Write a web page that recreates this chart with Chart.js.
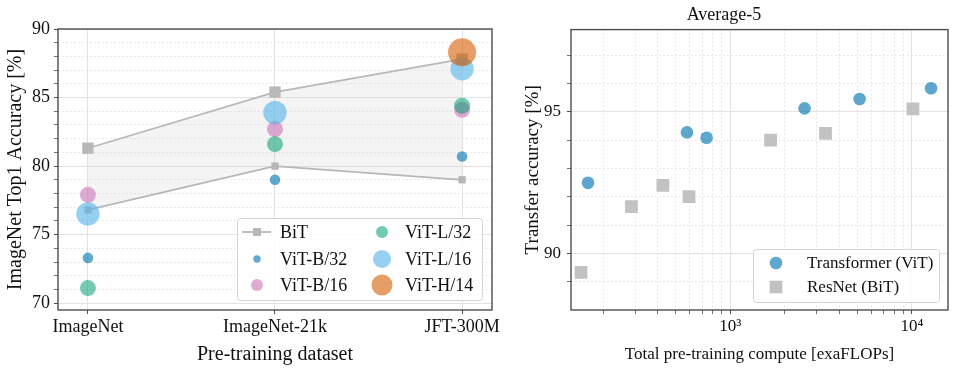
<!DOCTYPE html>
<html>
<head>
<meta charset="utf-8">
<script src="https://cdn.jsdelivr.net/npm/chart.js@4/dist/chart.umd.min.js"></script>
<style>
  body { margin: 0; background: #fff; width: 957px; height: 373px; overflow: hidden; position: relative; }
  canvas { position: absolute; top: 0; }
</style>
</head>
<body>
<canvas id="accChart" width="520" height="373" style="left:0"></canvas>
<canvas id="computeChart" width="457" height="373" style="left:500px"></canvas>
<script>
// left panel: ImageNet top1 per pre-training dataset
const pretrainSets = ["ImageNet", "ImageNet-21k", "JFT-300M"];
const bitUpper = [81.3, 85.4, 87.8];
const bitLower = [76.8, 80.0, 79.0];
const vitB32 = [73.3, 79.0, 80.7];
const vitB16 = [77.9, 82.7, 84.1];
const vitL32 = [71.1, 81.6, 84.4];
const vitL16 = [76.5, 83.9, 87.1];
const vitH14 = [null, null, 88.3];
const leftMajorTicks = [70, 75, 80, 85, 90];

// right panel: Average-5 transfer vs compute
const vitCompute = [165, 578, 741, 2564, 5150, 12730];
const vitTransfer = [92.49, 94.27, 94.08, 95.12, 95.45, 95.83];
const bitCompute = [151, 286, 426, 593, 1667, 3345, 10120];
const bitTransfer = [89.33, 91.65, 92.40, 92.0, 94.0, 94.24, 95.1];
const computeTicks = [200, 300, 400, 500, 600, 700, 800, 900, 1000,
  2000, 3000, 4000, 5000, 6000, 7000, 8000, 9000, 10000];
const computeLabels = { 1000: "10³", 10000: "10⁴" };
const rightMajorTicks = [90, 95];

const FONT = "Liberation Serif";
const TEXT = "#111";
const GRID = "#e2e2e2";
const MINOR = "#d9d9d9";

const C_B32 = "rgba(1,115,178,0.62)";
const C_B16 = "rgba(204,120,188,0.62)";
const C_L32 = "rgba(2,158,115,0.55)";
const C_L16 = "rgba(86,180,233,0.62)";
const C_H14 = "rgba(213,94,0,0.6)";
const C_BIT = "#b7b7b7";

function pts(values) {
  return values
    .map((v, i) => (v === null ? null : { x: i, y: v }))
    .filter((p) => p !== null);
}

const framePlugin = {
  id: "frame",
  afterDraw(chart) {
    const { ctx, chartArea: a } = chart;
    ctx.save();
    ctx.strokeStyle = "#4d4d4d";
    ctx.lineWidth = 1.4;
    ctx.strokeRect(a.left, a.top, a.right - a.left, a.bottom - a.top);
    ctx.restore();
  },
};

function drawMarker(ctx, shape, x, y, r, color) {
  ctx.fillStyle = color;
  ctx.beginPath();
  if (shape === "rect") ctx.rect(x - r, y - r, 2 * r, 2 * r);
  else ctx.arc(x, y, r, 0, Math.PI * 2);
  ctx.fill();
}

function legendPlugin(id, cfg) {
  return {
    id,
    afterDraw(chart) {
      const ctx = chart.ctx;
      const [x0, y0, x1, y1] = cfg.box;
      ctx.save();
      ctx.fillStyle = "rgba(255,255,255,0.85)";
      ctx.strokeStyle = "#d4d4d4";
      ctx.lineWidth = 1;
      ctx.beginPath();
      ctx.roundRect(x0 + 0.5, y0 + 0.5, x1 - x0, y1 - y0, 3);
      ctx.fill();
      ctx.stroke();
      ctx.font = `${cfg.size}px "${FONT}"`;
      ctx.textBaseline = "middle";
      cfg.items.forEach((it) => {
        if (it.line) {
          ctx.strokeStyle = it.color;
          ctx.lineWidth = 1.8;
          ctx.beginPath();
          ctx.moveTo(it.x - 15, it.y);
          ctx.lineTo(it.x + 14, it.y);
          ctx.stroke();
        }
        drawMarker(ctx, it.shape, it.x, it.y, it.r, it.color);
        ctx.fillStyle = TEXT;
        ctx.fillText(it.label, it.tx, it.y + 1);
      });
      ctx.restore();
    },
  };
}

function vitSet(label, values, color, radius, order) {
  return {
    label,
    data: pts(values),
    showLine: false,
    pointRadius: radius,
    pointBackgroundColor: color,
    pointBorderWidth: 0,
    order,
  };
}

new Chart(document.getElementById("accChart"), {
  type: "line",
  data: {
    datasets: [
      {
        label: "BiT",
        data: pts(bitUpper),
        borderColor: C_BIT,
        borderWidth: 1.8,
        pointStyle: "rect",
        pointRadius: 8,
        pointBackgroundColor: C_BIT,
        pointBorderWidth: 0,
        fill: false,
        order: 10,
      },
      {
        label: "BiT small",
        data: pts(bitLower),
        borderColor: C_BIT,
        borderWidth: 1.8,
        pointStyle: "rect",
        pointRadius: 5.2,
        pointBackgroundColor: C_BIT,
        pointBorderWidth: 0,
        fill: "-1",
        backgroundColor: "rgba(200,200,200,0.2)",
        order: 9,
      },
      vitSet("ViT-B/32", vitB32, C_B32, 5.3, 6),
      vitSet("ViT-B/16", vitB16, C_B16, 8, 5),
      vitSet("ViT-L/32", vitL32, C_L32, 8, 4),
      vitSet("ViT-L/16", vitL16, C_L16, 11.7, 3),
      vitSet("ViT-H/14", vitH14, C_H14, 14, 2),
    ],
  },
  options: {
    responsive: false,
    animation: false,
    events: [],
    layout: { padding: { top: 29, right: 28, left: 0, bottom: 0 } },
    plugins: { legend: { display: false }, tooltip: { enabled: false } },
    scales: {
      x: {
        type: "linear",
        min: -0.16,
        max: 2.16,
        afterBuildTicks: (s) => {
          s.ticks = pretrainSets.map((_, i) => ({ value: i }));
        },
        afterFit: (s) => {
          s.height = 63;
        },
        ticks: {
          autoSkip: false,
          maxRotation: 0,
          padding: 2,
          color: TEXT,
          font: { family: FONT, size: 18 },
          callback: (v) => pretrainSets[v] ?? "",
        },
        grid: { color: GRID, lineWidth: 1, tickLength: 4, tickColor: "#4d4d4d" },
        border: { display: false },
        title: {
          display: true,
          text: "Pre-training dataset",
          color: TEXT,
          font: { family: FONT, size: 20 },
          padding: { top: 0, bottom: 6 },
        },
      },
      y: {
        min: 69.5,
        max: 90,
        afterBuildTicks: (s) => {
          s.ticks = [];
          for (let v = 70; v <= 90; v++) s.ticks.push({ value: v });
        },
        afterFit: (s) => {
          s.width = 58;
        },
        ticks: {
          autoSkip: false,
          padding: 4,
          color: TEXT,
          font: { family: FONT, size: 18 },
          callback: (v) => (leftMajorTicks.includes(v) ? String(v) : ""),
        },
        grid: {
          color: (c) => (c.tick && leftMajorTicks.includes(c.tick.value) ? GRID : MINOR),
          lineWidth: (c) => (c.tick && leftMajorTicks.includes(c.tick.value) ? 1 : 0.8),
          tickLength: 4,
          tickColor: "#4d4d4d",
        },
        border: {
          display: false,
          dash: (c) => (c.tick && !leftMajorTicks.includes(c.tick.value) ? [1.5, 2.5] : []),
        },
        title: {
          display: true,
          text: "ImageNet Top1 Accuracy [%]",
          color: TEXT,
          font: { family: FONT, size: 20 },
          padding: { top: 4, bottom: 0 },
        },
      },
    },
  },
  plugins: [
    framePlugin,
    legendPlugin("accLegend", {
      box: [237, 218, 482, 300],
      size: 18,
      items: [
        { label: "BiT", shape: "rect", line: true, x: 257, y: 232, r: 4, color: C_BIT, tx: 280 },
        { label: "ViT-B/32", shape: "circle", x: 257, y: 259, r: 3.7, color: C_B32, tx: 280 },
        { label: "ViT-B/16", shape: "circle", x: 257, y: 285, r: 6, color: C_B16, tx: 280 },
        { label: "ViT-L/32", shape: "circle", x: 382, y: 232, r: 6, color: C_L32, tx: 405 },
        { label: "ViT-L/16", shape: "circle", x: 382, y: 259, r: 9, color: C_L16, tx: 405 },
        { label: "ViT-H/14", shape: "circle", x: 382, y: 285, r: 10.5, color: C_H14, tx: 405 },
      ],
    }),
  ],
});

const C_VIT = "rgba(1,115,178,0.64)";
const C_RES = "#c2c2c2";

new Chart(document.getElementById("computeChart"), {
  type: "scatter",
  data: {
    datasets: [
      {
        label: "Transformer (ViT)",
        data: vitCompute.map((x, i) => ({ x, y: vitTransfer[i] })),
        pointRadius: 6.3,
        pointBackgroundColor: C_VIT,
        pointBorderWidth: 0,
      },
      {
        label: "ResNet (BiT)",
        data: bitCompute.map((x, i) => ({ x, y: bitTransfer[i] })),
        pointStyle: "rect",
        pointRadius: 9,
        pointBackgroundColor: C_RES,
        pointBorderWidth: 0,
      },
    ],
  },
  options: {
    responsive: false,
    animation: false,
    events: [],
    layout: { padding: { top: 0, right: 9, left: 0, bottom: 0 } },
    plugins: {
      legend: { display: false },
      tooltip: { enabled: false },
      title: {
        display: true,
        text: "Average-5",
        color: TEXT,
        font: { family: FONT, size: 18, weight: "normal" },
        padding: { top: 4, bottom: 4 },
      },
    },
    scales: {
      x: {
        type: "logarithmic",
        min: 133,
        max: 15780,
        afterBuildTicks: (s) => {
          s.ticks = computeTicks.map((v) => ({ value: v }));
        },
        afterFit: (s) => {
          s.height = 63;
        },
        ticks: {
          autoSkip: false,
          maxRotation: 0,
          padding: 2,
          color: TEXT,
          font: { family: FONT, size: 17 },
          callback: (v) => computeLabels[v] ?? "",
        },
        grid: {
          color: (c) => (c.tick && computeLabels[c.tick.value] ? GRID : MINOR),
          lineWidth: (c) => (c.tick && computeLabels[c.tick.value] ? 1 : 0.8),
          tickLength: 4,
          tickColor: "#4d4d4d",
        },
        border: {
          display: false,
          dash: (c) => (c.tick && !computeLabels[c.tick.value] ? [1.5, 2.5] : []),
        },
        title: {
          display: true,
          text: "Total pre-training compute [exaFLOPs]",
          color: TEXT,
          font: { family: FONT, size: 17 },
          padding: { top: 0, bottom: 8 },
        },
      },
      y: {
        min: 88,
        max: 97.9,
        afterBuildTicks: (s) => {
          s.ticks = [];
          for (let v = 89; v <= 97; v++) s.ticks.push({ value: v });
        },
        afterFit: (s) => {
          s.width = 71;
        },
        ticks: {
          autoSkip: false,
          padding: 6,
          color: TEXT,
          font: { family: FONT, size: 17 },
          callback: (v) => (rightMajorTicks.includes(v) ? String(v) : ""),
        },
        grid: {
          color: (c) => (c.tick && rightMajorTicks.includes(c.tick.value) ? GRID : MINOR),
          lineWidth: (c) => (c.tick && rightMajorTicks.includes(c.tick.value) ? 1 : 0.8),
          tickLength: 4,
          tickColor: "#4d4d4d",
        },
        border: {
          display: false,
          dash: (c) => (c.tick && !rightMajorTicks.includes(c.tick.value) ? [1.5, 2.5] : []),
        },
        title: {
          display: true,
          text: "Transfer accuracy [%]",
          color: TEXT,
          font: { family: FONT, size: 19 },
          padding: { top: 22, bottom: 0 },
        },
      },
    },
  },
  plugins: [
    framePlugin,
    legendPlugin("computeLegend", {
      box: [253, 249, 439, 302],
      size: 17,
      items: [
        { label: "Transformer (ViT)", shape: "circle", x: 276, y: 263, r: 6.3, color: C_VIT, tx: 307 },
        { label: "ResNet (BiT)", shape: "rect", x: 276, y: 287, r: 6.3, color: C_RES, tx: 307 },
      ],
    }),
  ],
});
</script>
</body>
</html>
